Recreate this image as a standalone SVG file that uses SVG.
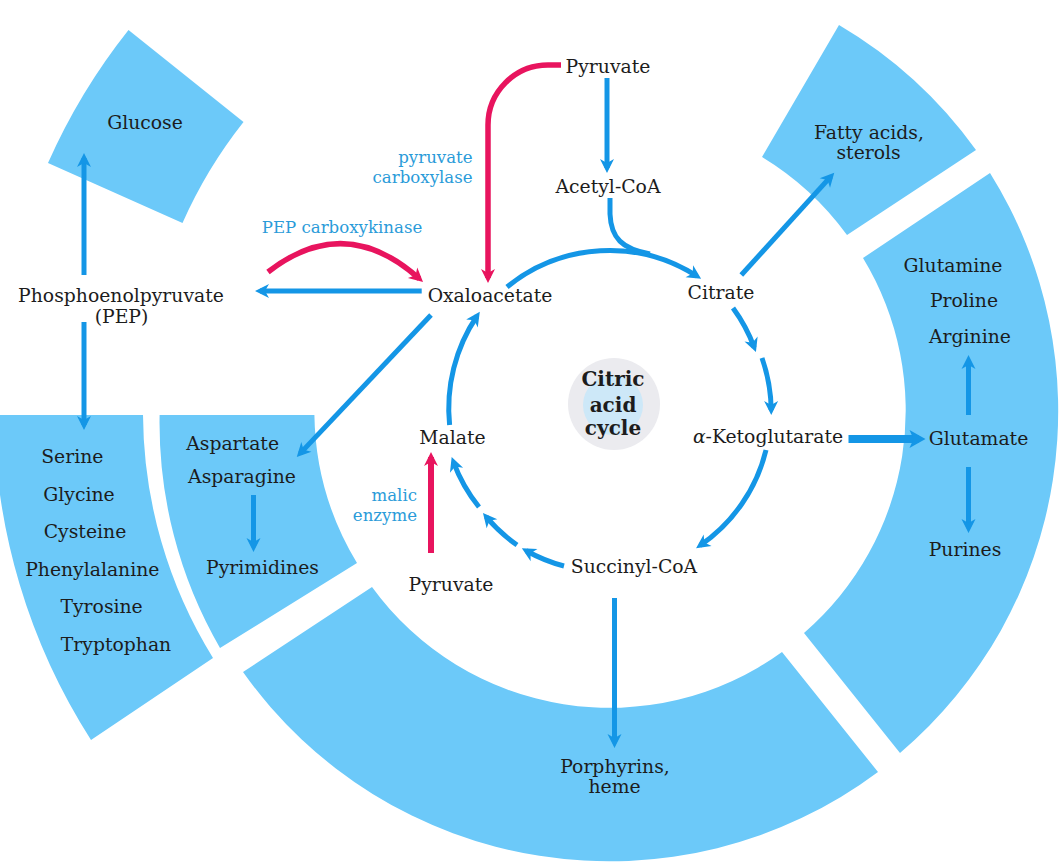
<svg xmlns="http://www.w3.org/2000/svg" width="1061" height="863" viewBox="0 0 1061 863">
<style>
.seg{fill:#6CC9F9}
.t{font-family:"DejaVu Serif",serif;font-size:18.8px;fill:#1c1c1c;text-anchor:middle}
.e{font-family:"DejaVu Serif",serif;font-size:16.6px;fill:#2A9BD9}
.c{font-family:"DejaVu Serif",serif;font-size:20px;font-weight:bold;fill:#1c1c1c;text-anchor:middle}
.b{stroke:#1496E6;stroke-width:5;fill:none;marker-end:url(#ab)}
.bt{stroke:#1496E6;stroke-width:8;fill:none;marker-end:url(#abt)}
.bl{stroke:#1496E6;stroke-width:5;fill:none}
.r{stroke:#E8145E;stroke-width:5.5;fill:none;marker-end:url(#ar)}
</style>
<defs>
<marker id="ab" viewBox="-10 -8 16 16" refX="0" refY="0" markerWidth="16" markerHeight="16" markerUnits="userSpaceOnUse" orient="auto"><path d="M5,0 L-9,-7 L-5,0 L-9,7 Z" fill="#1496E6"/></marker>
<marker id="abt" viewBox="-10 -10 18 20" refX="0" refY="0" markerWidth="18" markerHeight="20" markerUnits="userSpaceOnUse" orient="auto"><path d="M7,0 L-9,-9 L-5,0 L-9,9 Z" fill="#1496E6"/></marker>
<marker id="ar" viewBox="-10 -8 16 16" refX="0" refY="0" markerWidth="16" markerHeight="16" markerUnits="userSpaceOnUse" orient="auto"><path d="M5,0 L-9,-7 L-5,0 L-9,7 Z" fill="#E8145E"/></marker>
</defs>
<rect width="1061" height="863" fill="#ffffff"/>

<g id="segments">
<path id="seg-glucose" class="seg" d="M48 163 A614 614 0 0 1 128.5 30 L243.5 122 A467 467 0 0 0 182.5 223 Z"/>
<path id="seg-serine" class="seg" d="M-6 415 L143 415 A467 467 0 0 0 213 658 L91 740 A614 614 0 0 1 -6 415 Z"/>
<path id="seg-aspartate" class="seg" d="M159.6 415 L314.4 415 A294 294 0 0 0 357 563 L220 648 A449 449 0 0 1 159.6 415 Z"/>
<path id="seg-porphyrins" class="seg" d="M878 772 A449 449 0 0 1 243 672 L372 587 A294 294 0 0 0 782 652 Z"/>
<path id="seg-glutamate" class="seg" d="M990 173 A449 449 0 0 1 900 753 L804 633 A294 294 0 0 0 863 258 Z"/>
<path id="seg-fatty" class="seg" d="M839 25 A449 449 0 0 1 976 150 L847 235 A294 294 0 0 0 762 157 Z"/>
</g>

<g id="cycle-center">
<circle cx="614" cy="404" r="46" fill="#EBEBEF"/>
<circle cx="613" cy="405" r="30" fill="#CDE8F8"/>
<text class="c" x="613" y="386">Citric</text>
<text class="c" x="613" y="412">acid</text>
<text class="c" x="613" y="435">cycle</text>
</g>

<g id="connectors">
<path class="b" d="M507 287 A162 162 0 0 1 696.9 276.1"/>
<path class="bl" d="M610 198 L610 214 C611 238 622 249 650 254"/>
<path class="b" d="M733 308 A162 162 0 0 1 754.2 347.4"/>
<path class="b" d="M762 358 A162 162 0 0 1 771.2 410"/>
<path class="b" d="M766 450 A162 162 0 0 1 700.2 545.4"/>
<path class="b" d="M564 566 A162 162 0 0 1 526.2 550.7"/>
<path class="b" d="M517 545 A162 162 0 0 1 486.2 516.9"/>
<path class="b" d="M479 507 A162 162 0 0 1 453.4 461.8"/>
<path class="b" d="M449.6 425 A165 165 0 0 1 477 316"/>
<path class="b" d="M607 78 L607 168"/>
<path class="b" d="M741.3 275 L830.9 176.4"/>
<path class="bt" d="M848.5 439 L918.5 439"/>
<path class="b" d="M968.5 415 L968.5 360"/>
<path class="b" d="M968.5 467 L968.5 528"/>
<path class="b" d="M614.5 598 L614.5 743"/>
<path class="b" d="M421.7 291 L260 291"/>
<path class="b" d="M84 275 L84 158"/>
<path class="b" d="M84 322 L84 425"/>
<path class="b" d="M431 315 L300.2 453.4"/>
<path class="b" d="M253.5 495 L253.5 547"/>
<path class="r" d="M561 65 L548 65 A60 60 0 0 0 488 125 L488 278"/>
<path class="r" d="M268 272 Q345 212 419.3 278.7"/>
<path class="r" style="stroke-width:6" d="M431 553 L431 457"/>
</g>

<g id="n-pyruvate-top"><text class="t" x="608" y="73">Pyruvate</text></g>
<g id="n-acetylcoa"><text class="t" x="608" y="193">Acetyl-CoA</text></g>
<g id="n-citrate"><text class="t" x="721" y="299">Citrate</text></g>
<g id="n-oxaloacetate"><text class="t" x="490" y="302">Oxaloacetate</text></g>
<g id="n-pep"><text class="t" x="121" y="302">Phosphoenolpyruvate</text><text class="t" x="121.5" y="323">(PEP)</text></g>
<g id="n-glucose"><text class="t" x="145" y="129">Glucose</text></g>
<g id="l-pyruvate-carboxylase"><text class="e" x="472.6" y="163" text-anchor="end">pyruvate</text><text class="e" x="472.6" y="183" text-anchor="end">carboxylase</text></g>
<g id="l-pep-carboxykinase"><text class="e" x="342" y="233" text-anchor="middle">PEP carboxykinase</text></g>
<g id="n-aspartate"><text class="t" x="232.6" y="450">Aspartate</text><text class="t" x="242" y="483">Asparagine</text></g>
<g id="n-pyrimidines"><text class="t" x="262.5" y="574">Pyrimidines</text></g>
<g id="n-serine">
<text class="t" x="72.3" y="463">Serine</text>
<text class="t" x="79" y="500.5">Glycine</text>
<text class="t" x="85" y="538">Cysteine</text>
<text class="t" x="92.3" y="575.5">Phenylalanine</text>
<text class="t" x="101.6" y="613">Tyrosine</text>
<text class="t" x="116" y="650.5">Tryptophan</text>
</g>
<g id="n-malate"><text class="t" x="452.5" y="444">Malate</text></g>
<g id="l-malic-enzyme"><text class="e" x="417" y="501" text-anchor="end">malic</text><text class="e" x="417" y="521" text-anchor="end">enzyme</text></g>
<g id="n-pyruvate-bottom"><text class="t" x="451" y="591">Pyruvate</text></g>
<g id="n-succinylcoa"><text class="t" x="634" y="573">Succinyl-CoA</text></g>
<g id="n-ketoglutarate"><text class="t" x="768" y="443"><tspan font-style="italic">α</tspan>-Ketoglutarate</text></g>
<g id="n-glutamate"><text class="t" x="978.5" y="445">Glutamate</text></g>
<g id="n-purines"><text class="t" x="965" y="556">Purines</text></g>
<g id="n-porphyrins"><text class="t" x="615" y="773">Porphyrins,</text><text class="t" x="614.5" y="793">heme</text></g>
<g id="n-fatty"><text class="t" x="869" y="139">Fatty acids,</text><text class="t" x="868.6" y="159">sterols</text></g>
<g id="n-glutamine"><text class="t" x="953" y="272">Glutamine</text></g>
<g id="n-proline"><text class="t" x="964" y="307">Proline</text></g>
<g id="n-arginine"><text class="t" x="970" y="343">Arginine</text></g>
</svg>
